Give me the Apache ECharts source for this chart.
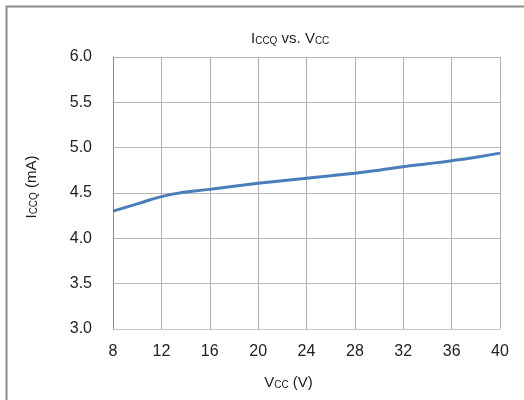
<!DOCTYPE html>
<html>
<head>
<meta charset="utf-8">
<script src="https://cdn.jsdelivr.net/npm/echarts@6/dist/echarts.min.js"></script>
<style>html,body{margin:0;padding:0;background:#fff;}#c{width:524px;height:400px;}</style>
</head>
<body>
<div id="c"></div>
<script>
const vcc = [8, 10, 12, 14, 16, 18, 20, 22, 24, 26, 28, 30, 32, 34, 36, 38, 40];
const iccq = [4.30, 4.38, 4.46, 4.51, 4.54, 4.575, 4.607, 4.636, 4.663, 4.69, 4.718, 4.752, 4.79, 4.822, 4.856, 4.895, 4.94];
const xTicks = { min: 8, max: 40, step: 4 };
const yTicks = { min: 3, max: 6, step: 0.5 };

const chart = echarts.init(document.getElementById('c'), null, { renderer: 'canvas' });
const font = 'Liberation Sans, Arial, sans-serif';
const rich = {
  m: { fontSize: 15, fontFamily: font, fontWeight: 'normal', color: '#222', verticalAlign: 'bottom', lineHeight: 18 },
  s: { fontSize: 10, fontFamily: font, fontWeight: 'normal', color: '#222', verticalAlign: 'bottom', lineHeight: 14 }
};
chart.setOption({
  animation: false,
  title: {
    text: '{m|I}{s|CCQ}{m| vs. V}{s|CC}',
    left: 246, top: 23,
    textStyle: { fontWeight: 'normal', rich: rich }
  },
  graphic: [{
    type: 'rect', shape: { x: 6.5, y: 6.5, width: 700, height: 700 },
    style: { fill: 'none', stroke: '#8c8c8c', lineWidth: 2 }, silent: true
  }],
  grid: { left: 113, right: 24, top: 57, bottom: 71 },
  xAxis: {
    type: 'value', min: xTicks.min, max: xTicks.max, interval: xTicks.step,
    name: '{m|V}{s|CC}{m| (V)}', nameLocation: 'middle', nameGap: 43,
    nameTextStyle: { rich: rich, padding: [0, 36, 0, 0] },
    axisLine: { lineStyle: { color: '#c8c8c8', width: 1 } },
    axisTick: { show: false },
    axisLabel: { color: '#222', fontSize: 16, fontFamily: font, margin: 15 },
    splitLine: { lineStyle: { color: '#b0b0b0', width: 1 } }
  },
  yAxis: {
    type: 'value', min: yTicks.min, max: yTicks.max, interval: yTicks.step,
    name: '{m|I}{s|CCQ}{m| (mA)}', nameLocation: 'middle', nameGap: 74, nameRotate: 90,
    nameTextStyle: { rich: rich, padding: [0, 0, 0, 12] },
    axisLine: { show: true, lineStyle: { color: '#888', width: 1 } },
    axisTick: { show: false },
    axisLabel: { color: '#222', fontSize: 16, fontFamily: font, margin: 21, formatter: v => v.toFixed(1) },
    splitLine: { lineStyle: { color: '#b8b8b8', width: 1 } }
  },
  series: [{
    type: 'line', data: vcc.map((x, i) => [x, iccq[i]]), smooth: true,
    showSymbol: false, lineStyle: { color: '#4a7ebb', width: 3 }
  }]
});
</script>
</body>
</html>
